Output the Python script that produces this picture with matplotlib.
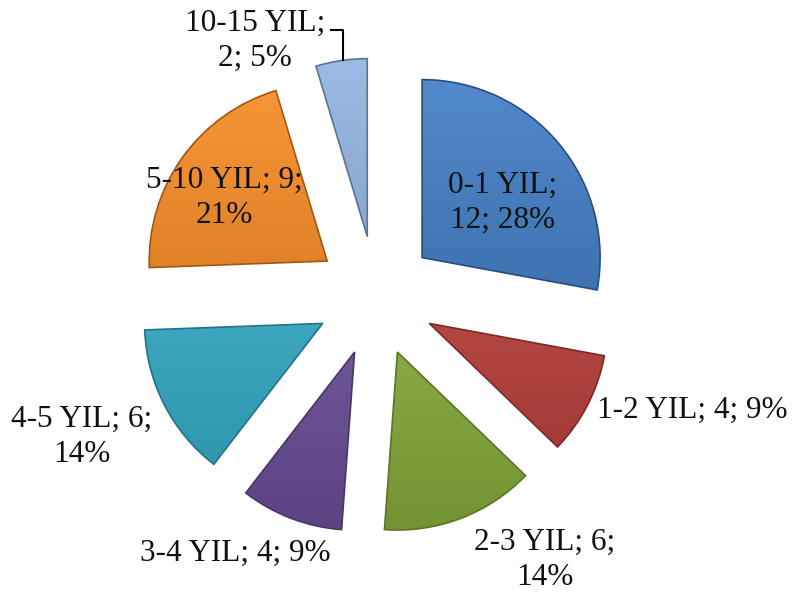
import numpy as np
import matplotlib
matplotlib.use("Agg")
import matplotlib.pyplot as plt
import matplotlib.patches as mpatches
from matplotlib.colors import to_rgb

# ---- data ----
categories = ["0-1 YIL", "1-2 YIL", "2-3 YIL", "3-4 YIL", "4-5 YIL", "5-10 YIL", "10-15 YIL"]
values = [12, 4, 6, 4, 6, 9, 2]
colors = ["#3B79C3", "#C0413D", "#8DB43E", "#7052A0", "#35B2CF", "#F7871E", "#8DB2E0"]

# ---- layout (pixel coordinates, y from top) ----
W, H = 796, 599
pie_center_px = (376, 296)
pie_radius = 178
explode_px = 60
# label centers and line-break pattern (layout only)
label_pos_px = [(503, 203), (692, 410), (545, 560), (235, 553), (82, 437), (224, 198), (255, 41)]
label_breaks = [1, None, 2, None, 2, 2, 1]   # after which ';' to break line

total = sum(values)

fig = plt.figure(figsize=(W / 100, H / 100), dpi=100)
ax = fig.add_axes([0, 0, 1, 1])

cx, cy = pie_center_px[0], H - pie_center_px[1]
wedges, _ = ax.pie(values, colors=colors, startangle=90, counterclock=False,
                   explode=[explode_px] * len(values), radius=pie_radius,
                   center=(cx, cy), wedgeprops=dict(linewidth=0))

def shade(c, f):
    r, g, b = to_rgb(c)
    if f >= 1:
        return tuple(min(1, x + (1 - x) * (f - 1)) for x in (r, g, b))
    return tuple(x * f for x in (r, g, b))

grad = np.linspace(0, 1, 256)[:, None]
for w, col in zip(wedges, colors):
    wx, wy = w.center
    r = w.r
    top = np.array(shade(col, 1.12))
    bot = np.array(shade(col, 0.82))
    img = top[None, None, :] * (1 - grad[..., None]) + bot[None, None, :] * grad[..., None]
    img = np.repeat(img, 2, axis=1)
    im = ax.imshow(img, extent=[wx - r, wx + r, wy - r, wy + r], origin="upper",
                   zorder=2, interpolation="bilinear")
    im.set_clip_path(w)
    edge = mpatches.Wedge((wx, wy), r, w.theta1, w.theta2, fill=False,
                          edgecolor=shade(col, 0.65), linewidth=1.2, zorder=3)
    ax.add_patch(edge)

# labels
for cat, v, (lx, ly), brk in zip(categories, values, label_pos_px, label_breaks):
    pct = round(v / total * 100)
    parts = [f"{cat};", f"{v};", f"{pct}%"]
    if brk is None:
        txt = " ".join(parts)
    else:
        txt = " ".join(parts[:brk]) + "\n" + " ".join(parts[brk:])
    ax.text(lx, H - ly, txt, ha="center", va="center", fontsize=22.5,
            family="Liberation Serif", color="#111111", linespacing=1.25, zorder=5)

# leader line for smallest slice
ax.plot([331, 343, 343], [H - 30, H - 30, H - 60], color="black", lw=1.5, zorder=4)

ax.set_xlim(0, W)
ax.set_ylim(0, H)
ax.set_aspect("equal")
ax.axis("off")
fig.savefig("out.png", dpi=100, facecolor="white")
